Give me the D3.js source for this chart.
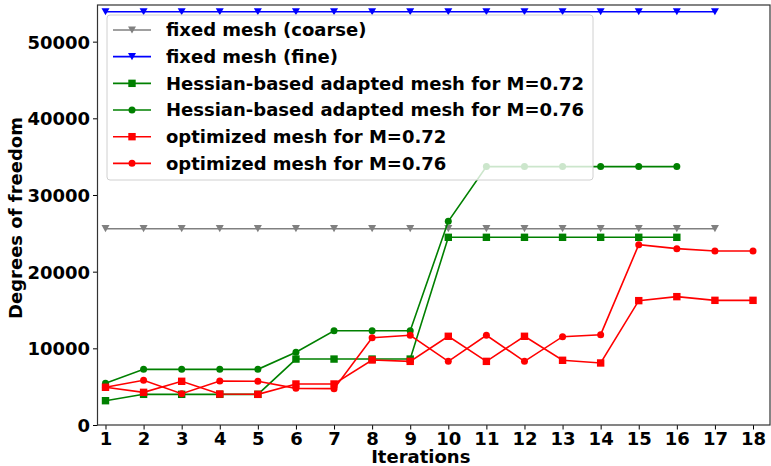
<!DOCTYPE html>
<html><head><meta charset="utf-8">
<script src="https://cdn.jsdelivr.net/npm/d3@7"></script>
<style>body{margin:0;background:#fff}svg{display:block}svg text{font-family:"DejaVu Sans",sans-serif !important;font-weight:bold !important;font-size:18px !important}</style>
</head><body>
<script>
const iterations = d3.range(1, 19);
const xTicks = d3.range(1, 19);
const yTicks = [0, 10000, 20000, 30000, 40000, 50000];
const coarse = [25600,25600,25600,25600,25600,25600,25600,25600,25600,25600,25600,25600,25600,25600,25600,25600,25600];
const fine = [53900,53900,53900,53900,53900,53900,53900,53900,53900,53900,53900,53900,53900,53900,53900,53900,53900];
const hess072 = [3170,4000,4000,4000,4000,8600,8600,8600,8600,24480,24480,24480,24480,24480,24480,24480];
const hess076 = [5440,7260,7260,7260,7260,9480,12300,12300,12300,26570,33700,33700,33700,33700,33700,33700];
const opt072 = [4920,4260,5700,4040,4000,5350,5350,8480,8300,11570,8300,11570,8440,8090,16220,16740,16260,16260];
const opt076 = [4920,5830,4080,5740,5700,4780,4740,11390,11700,8300,11700,8300,11520,11780,23520,23000,22700,22700];

const series = [
  {name:"fixed mesh (coarse)", values:coarse, color:"#808080", marker:"tri"},
  {name:"fixed mesh (fine)", values:fine, color:"#0000ff", marker:"tri"},
  {name:"Hessian-based adapted mesh for M=0.72", values:hess072, color:"#008000", marker:"sq"},
  {name:"Hessian-based adapted mesh for M=0.76", values:hess076, color:"#008000", marker:"circ"},
  {name:"optimized mesh for M=0.72", values:opt072, color:"#ff0000", marker:"sq"},
  {name:"optimized mesh for M=0.76", values:opt076, color:"#ff0000", marker:"circ"}
];

const W = 771, H = 466;
const L = 97.5, R = 770, T = 5, B = 425;
const x = d3.scaleLinear().domain([0.79, 18.446]).range([L, R]);
const y = d3.scaleLinear().domain([0, 54780]).range([B, T]);

const svg = d3.select("body").append("svg").attr("width", W).attr("height", H);

function drawMarker(g, type, cx, cy, color) {
  if (type === "sq") {
    g.append("rect").attr("x", cx-3.7).attr("y", cy-3.7).attr("width", 7.4).attr("height", 7.4).attr("fill", color);
  } else if (type === "circ") {
    g.append("circle").attr("cx", cx).attr("cy", cy).attr("r", 3.5).attr("fill", color);
  } else {
    g.append("path").attr("d", `M${cx-4},${cy-3.6}L${cx+4},${cy-3.6}L${cx},${cy+3.6}Z`).attr("fill", color);
  }
}

const plot = svg.append("g");
const line = d3.line().x((d,i)=>x(iterations[i])).y(d=>y(d));
series.forEach(s => {
  const g = plot.append("g");
  g.append("path").attr("d", line(s.values)).attr("fill","none").attr("stroke", s.color).attr("stroke-width", 1.6);
  s.values.forEach((v,i) => drawMarker(g, s.marker, x(iterations[i]), y(v), s.color));
});

// axes
const xAxis = svg.append("g").attr("transform", `translate(0,${B})`)
  .call(d3.axisBottom(x).tickValues(xTicks).tickSize(4.5).tickPadding(3).tickFormat(d3.format("d")));
const yAxis = svg.append("g").attr("transform", `translate(${L},0)`)
  .call(d3.axisLeft(y).tickValues(yTicks).tickSize(4.5).tickPadding(3).tickFormat(d3.format("d")));
[xAxis, yAxis].forEach(a => {
  a.attr("font-size", 18).attr("font-family", "DejaVu Sans").attr("font-weight", "bold");
  a.select(".domain").remove();
  a.selectAll("line").attr("stroke", "#000").attr("stroke-width", 1);
  a.selectAll("text").attr("fill", "#000");
});
yAxis.selectAll("text").attr("dy", "0.36em");

// spines
svg.append("rect").attr("x", L).attr("y", T).attr("width", R-L).attr("height", B-T)
  .attr("fill","none").attr("stroke","#333").attr("stroke-width",1.2);

// labels
svg.append("text").attr("x", (L+R)/2 - 13).attr("y", 463).attr("text-anchor","middle").text("Iterations");
svg.append("text").attr("transform", `translate(21.5,218) rotate(-90)`).attr("text-anchor","middle").text("Degrees of freedom");

// legend
const lg = svg.append("g");
lg.append("rect").attr("x", 107).attr("y", 15).attr("width", 486).attr("height", 165).attr("rx", 3)
  .attr("fill", "#fff").attr("fill-opacity", 0.8).attr("stroke", "#d0d0d0").attr("stroke-width", 1);
series.forEach((s, i) => {
  const cy = 30 + i*26.67;
  lg.append("line").attr("x1", 113).attr("x2", 151).attr("y1", cy).attr("y2", cy).attr("stroke", s.color).attr("stroke-width", 1.6);
  drawMarker(lg, s.marker, 132, cy, s.color);
  lg.append("text").attr("x", 166).attr("y", cy).attr("dy", "0.36em").attr("fill","#000").text(s.name);
});
</script>
</body></html>
